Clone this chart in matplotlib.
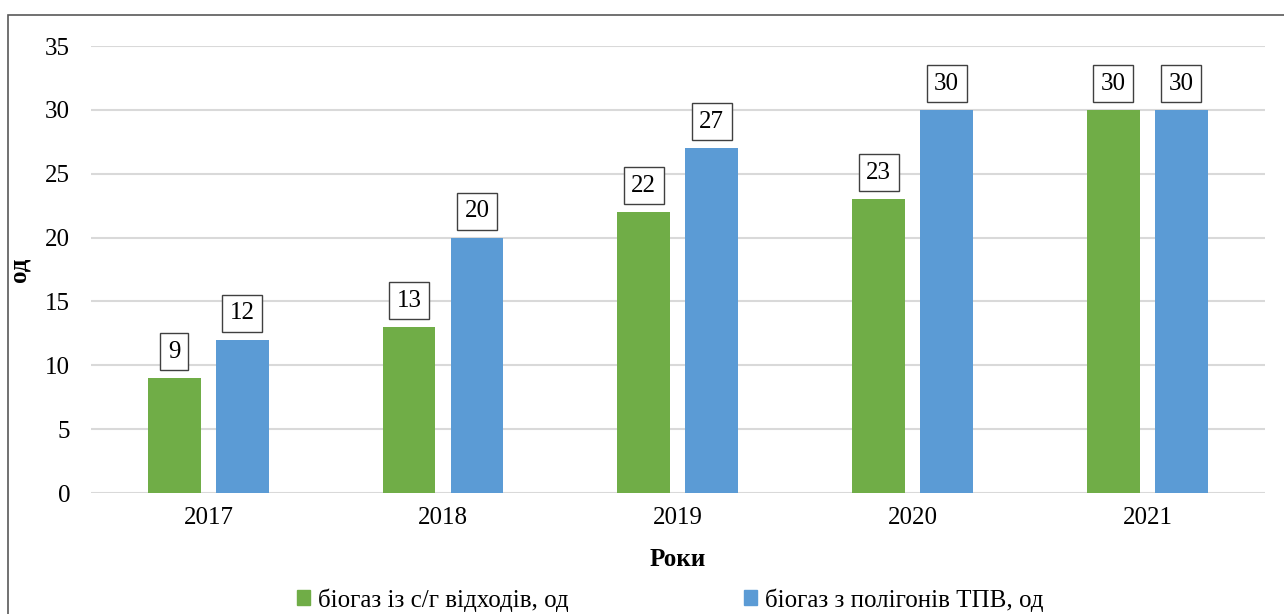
import numpy as np
import matplotlib.pyplot as plt
from matplotlib.patches import Rectangle

plt.rcParams['font.family'] = ['Liberation Serif', 'DejaVu Serif']

years = ['2017', '2018', '2019', '2020', '2021']
agri = [9, 13, 22, 23, 30]
landfill = [12, 20, 27, 30, 30]
agri_label = 'біогаз із с/г відходів, од'
landfill_label = 'біогаз з полігонів ТПВ, од'

green = '#70ad47'
blue = '#5b9bd5'

fig = plt.figure(figsize=(12.84, 6.14), dpi=100)
ax = fig.add_axes([91 / 1284, 1 - 493 / 614, 1174 / 1284, 447 / 614])

# outer chart frame
fig.patches.append(Rectangle((8 / 1284, -0.1), 1.2, 1 - 15 / 614 + 0.1,
                             transform=fig.transFigure, fill=False,
                             edgecolor='#595959', linewidth=1.2))

x = np.arange(len(years))
w = 0.225
b1 = ax.bar(x - 0.146, agri, w, color=green, zorder=3)
b2 = ax.bar(x + 0.144, landfill, w, color=blue, zorder=3)

for bars, vals in ((b1, agri), (b2, landfill)):
    for r, v in zip(bars, vals):
        ax.annotate(str(v), (r.get_x() + r.get_width() / 2, v),
                    xytext=(0, 11), textcoords='offset points',
                    ha='center', va='bottom', fontsize=18,
                    bbox=dict(boxstyle='square,pad=0.3', fc='white',
                              ec='#404040', lw=1))

ax.set_xlim(-0.5, len(years) - 0.5)
ax.set_ylim(0, 35)
ax.set_yticks(range(0, 36, 5))
ax.set_xticks(x)
ax.set_xticklabels(years)
ax.tick_params(axis='both', length=0, labelsize=18, colors='black')
ax.tick_params(axis='y', pad=15)
ax.tick_params(axis='x', pad=10)
ax.grid(axis='y', color='#d9d9d9', linewidth=1.5, zorder=0)
for s in ax.spines.values():
    s.set_visible(False)

ax.set_ylabel('од', fontsize=18, fontweight='bold')
ax.yaxis.set_label_coords(-(91 - 31) / 1174, 0.5)
ax.set_xlabel('Роки', fontsize=18, fontweight='bold', labelpad=14)

handles = [Rectangle((0, 0), 1, 1, color=green), Rectangle((0, 0), 1, 1, color=blue)]
fig.legend(handles, [agri_label, landfill_label], loc='center',
           bbox_to_anchor=(670 / 1284, 1 - 600 / 614), ncol=2, frameon=False,
           fontsize=18, handlelength=0.55, handleheight=0.55,
           handletextpad=0.3, columnspacing=7.0)

fig.savefig('out.png', dpi=100)
